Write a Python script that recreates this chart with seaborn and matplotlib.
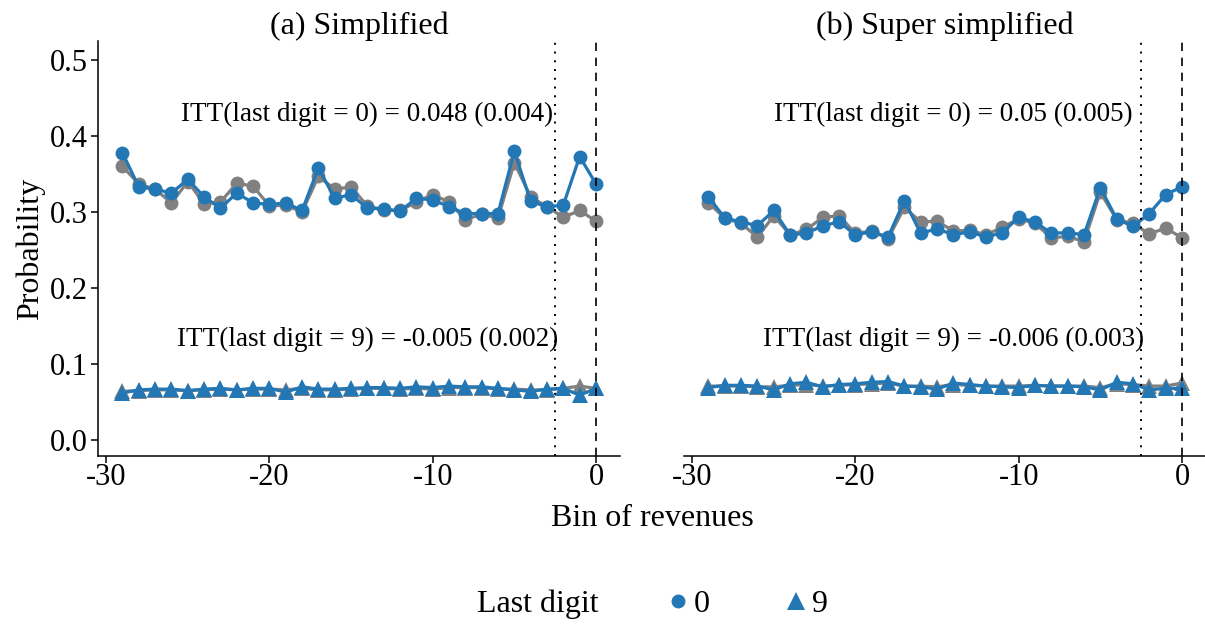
import numpy as np
import pandas as pd
import matplotlib
matplotlib.use("Agg")
import matplotlib.pyplot as plt
from matplotlib.lines import Line2D
import seaborn as sns

bins = list(range(-29, 1))

# (a) Simplified
a_d0_obs = [0.378, 0.333, 0.330, 0.325, 0.343, 0.320, 0.305, 0.325, 0.312, 0.310,
            0.312, 0.302, 0.358, 0.318, 0.323, 0.305, 0.304, 0.301, 0.318, 0.316,
            0.307, 0.298, 0.298, 0.298, 0.380, 0.314, 0.307, 0.309, 0.373, 0.337]
a_d0_cf = [0.360, 0.337, 0.330, 0.312, 0.340, 0.311, 0.313, 0.338, 0.334, 0.308,
           0.309, 0.300, 0.347, 0.330, 0.333, 0.308, 0.303, 0.302, 0.313, 0.323,
           0.313, 0.290, 0.297, 0.292, 0.365, 0.320, 0.307, 0.293, 0.302, 0.288]
a_d9_obs = [0.062, 0.066, 0.067, 0.067, 0.065, 0.067, 0.068, 0.066, 0.068, 0.068,
            0.063, 0.070, 0.067, 0.067, 0.068, 0.069, 0.069, 0.068, 0.070, 0.069,
            0.071, 0.070, 0.070, 0.068, 0.066, 0.064, 0.067, 0.068, 0.059, 0.068]
a_d9_cf = [0.064, 0.065, 0.066, 0.066, 0.065, 0.066, 0.067, 0.066, 0.067, 0.067,
           0.066, 0.068, 0.066, 0.066, 0.067, 0.068, 0.068, 0.067, 0.068, 0.067,
           0.069, 0.069, 0.069, 0.067, 0.067, 0.066, 0.066, 0.068, 0.071, 0.068]

# (b) Super simplified
b_d0_obs = [0.320, 0.292, 0.287, 0.282, 0.302, 0.270, 0.272, 0.282, 0.287, 0.270,
            0.274, 0.267, 0.315, 0.272, 0.278, 0.270, 0.274, 0.267, 0.273, 0.293,
            0.287, 0.272, 0.273, 0.270, 0.332, 0.291, 0.281, 0.298, 0.323, 0.333]
b_d0_cf = [0.312, 0.292, 0.285, 0.267, 0.295, 0.270, 0.277, 0.293, 0.295, 0.272,
           0.275, 0.265, 0.306, 0.287, 0.288, 0.275, 0.276, 0.270, 0.280, 0.291,
           0.285, 0.266, 0.268, 0.261, 0.326, 0.290, 0.285, 0.271, 0.279, 0.266]
b_d9_obs = [0.069, 0.072, 0.072, 0.071, 0.066, 0.074, 0.076, 0.070, 0.073, 0.074,
            0.076, 0.077, 0.071, 0.070, 0.067, 0.075, 0.073, 0.071, 0.070, 0.069,
            0.072, 0.071, 0.071, 0.070, 0.066, 0.076, 0.074, 0.066, 0.068, 0.068]
b_d9_cf = [0.071, 0.071, 0.071, 0.070, 0.070, 0.072, 0.073, 0.071, 0.072, 0.073,
           0.074, 0.075, 0.071, 0.071, 0.070, 0.073, 0.072, 0.071, 0.071, 0.071,
           0.072, 0.071, 0.071, 0.071, 0.069, 0.074, 0.073, 0.071, 0.071, 0.075]

titles = ["(a) Simplified", "(b) Super simplified"]
itt0 = ["ITT(last digit = 0) = 0.048 (0.004)", "ITT(last digit = 0) = 0.05 (0.005)"]
itt9 = ["ITT(last digit = 9) = -0.005 (0.002)", "ITT(last digit = 9) = -0.006 (0.003)"]

BLUE = "#2277b4"
GRAY = "#808080"


def make_df(obs, cf):
    parts = []
    for vals, grp in [(cf, "cf"), (obs, "obs")]:
        parts.append(pd.DataFrame({"bin": bins, "prob": vals, "grp": grp}))
    return pd.concat(parts, ignore_index=True)


data = [
    {"0": make_df(a_d0_obs, a_d0_cf), "9": make_df(a_d9_obs, a_d9_cf)},
    {"0": make_df(b_d0_obs, b_d0_cf), "9": make_df(b_d9_obs, b_d9_cf)},
]
marker_of = {"0": "o", "9": "^"}
msize_of = {"0": 10, "9": 12}

sns.set_style("ticks")
plt.rcParams["font.family"] = ["Liberation Serif", "DejaVu Serif"]
plt.rcParams["text.color"] = "black"
plt.rcParams["axes.labelcolor"] = "black"

fig = plt.figure(figsize=(12.05, 6.25), dpi=100)
ax1 = fig.add_axes([0.0813, 0.2704, 0.4332, 0.664])
ax2 = fig.add_axes([0.5676, 0.2704, 0.4332, 0.664])

for i, ax in enumerate([ax1, ax2]):
    for dig in ["0", "9"]:
        sns.lineplot(data=data[i][dig], x="bin", y="prob", hue="grp",
                     hue_order=["cf", "obs"], palette={"cf": GRAY, "obs": BLUE},
                     marker=marker_of[dig], markersize=msize_of[dig],
                     markeredgewidth=0, linewidth=2.3, legend=False, ax=ax)
    ax.axvline(-2.5, color="black", linestyle=(0, (1, 3.5)), linewidth=1.4)
    ax.axvline(0, color="black", linestyle=(0, (5, 4)), linewidth=1.2)
    ax.set_xlim(-30.5, 1.47)
    ax.set_ylim(-0.021, 0.525)
    ax.set_xticks([-30, -20, -10, 0])
    ax.set_xticklabels(["-30", "-20", "-10", "0"])
    ax.set_title(titles[i], fontsize=23, pad=0, color="black")
    ax.set_xlabel("")
    ax.set_ylabel("")
    ax.tick_params(labelsize=22, length=5, width=1.1, colors="black", pad=2)
    ax.tick_params(axis="x", pad=0)
    ax.text(-14.0, 0.428, itt0[i], fontsize=19.5, ha="center", va="center")
    ax.text(-14.0, 0.132, itt9[i], fontsize=19.5, ha="center", va="center")
    for s in ["bottom", "left"]:
        ax.spines[s].set_linewidth(1.1)
        ax.spines[s].set_color("black")
    sns.despine(ax=ax)

ax1.set_yticks([0.0, 0.1, 0.2, 0.3, 0.4, 0.5])
ax1.set_yticklabels(["0.0", "0.1", "0.2", "0.3", "0.4", "0.5"])
ax1.set_ylabel("Probability", fontsize=23, labelpad=4)
ax2.spines["left"].set_visible(False)
ax2.tick_params(axis="y", left=False, labelleft=False)

fig.text(0.541, 1 - 518 / 625, "Bin of revenues", fontsize=23, ha="center", va="center")

fig.text(477 / 1205, 1 - 604 / 625, "Last digit", fontsize=23, ha="left", va="center")
handles = [Line2D([], [], color=BLUE, marker="o", linestyle="", markersize=10, markeredgewidth=0),
           Line2D([], [], color=BLUE, marker="^", linestyle="", markersize=13, markeredgewidth=0)]
fig.legend(handles, ["0", "9"], loc="center left", bbox_to_anchor=(636 / 1205, 1 - 604 / 625),
           ncol=2, frameon=False, fontsize=23, handlelength=0.8, handletextpad=0.1,
           columnspacing=2.3)

fig.savefig("out.png", dpi=100)
